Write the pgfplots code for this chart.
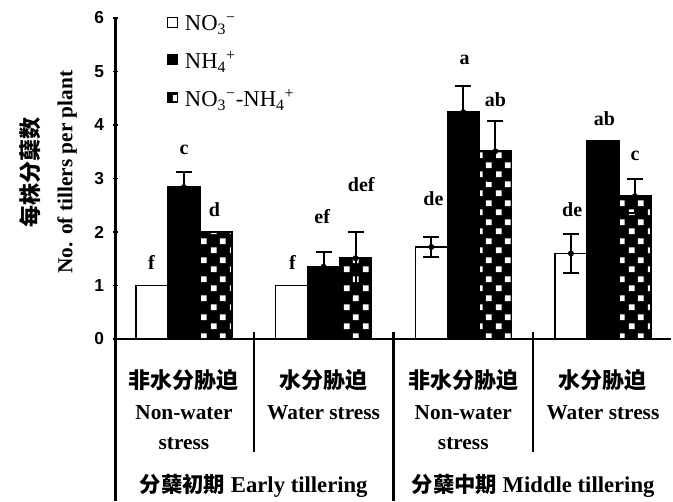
\documentclass[border=0pt]{standalone}
\usepackage{pgfplots}
\pgfplotsset{compat=1.18}
\usepackage{pgfplotstable}
\usepackage{fontspec}
\usetikzlibrary{patterns}
\setmainfont{Liberation Serif}
\newfontfamily\cjk{Noto Sans CJK SC}
\newfontfamily\ticksf{Liberation Sans}

\pgfdeclarepatternformonly{checks}{\pgfqpoint{0pt}{0pt}}{\pgfqpoint{14.25pt}{14.25pt}}{\pgfqpoint{14.25pt}{14.25pt}}{%
  \pgfpathrectangle{\pgfqpoint{1.4pt}{1.4pt}}{\pgfqpoint{4.6pt}{4.6pt}}%
  \pgfpathrectangle{\pgfqpoint{8.5pt}{8.5pt}}{\pgfqpoint{4.6pt}{4.6pt}}%
  \pgfusepath{fill}}

% bar heights
\pgfplotstableread{
x y
0 1.00
1 1.00
2 1.72
3 1.60
}\nothree
\pgfplotstableread{
x y
0 2.84
1 1.35
2 4.24
3 3.70
}\nhfour
\pgfplotstableread{
x y
0 2.00
1 1.51
2 3.51
3 2.67
}\mixed
% error bars (x = bar centre)
\pgfplotstableread{
x y err
1.771 1.72 0.19
2.771 1.60 0.37
0.000 2.84 0.28
1.000 1.35 0.28
2.000 4.24 0.49
1.229 1.51 0.49
2.229 3.51 0.56
3.229 2.67 0.32
}\errs
\pgfplotstableread{
x y label
-0.233 1.43 f
0.00 3.53 c
0.218 2.42 d
0.777 1.43 f
0.99 2.29 ef
1.27 2.88 def
1.786 2.62 de
2.01 5.21 a
2.23 4.47 ab
2.78 2.42 de
3.01 4.12 ab
3.23 3.42 c
}\letters

\newcommand{\zh}[1]{{\cjk\bfseries\fontsize{16.5}{22.9}\selectfont #1}}

\begin{document}
\begin{tikzpicture}
\begin{axis}[
  x=104.75pt, y=40.125pt,
  xmin=-0.49, xmax=3.49, ymin=0, ymax=6,
  axis x line*=bottom, axis y line*=left,
  axis line style={-, line width=1.6pt},
  clip=false,
  xtick={0,1,2,3},
  xticklabels={{\zh{非水分胁迫}\\Non-water\\stress},{\zh{水分胁迫}\\Water stress},{\zh{非水分胁迫}\\Non-water\\stress},{\zh{水分胁迫}\\Water stress}},
  x tick style={draw=none},
  ytick={0,1,2,3,4,5,6},
  y tick style={line width=1.2pt, black},
  major tick length=4pt,
  tick align=center,
  /pgf/number format/assume math mode=true,
  yticklabel style={font=\fontsize{13}{14}\selectfont\ticksf\bfseries, xshift=-3pt},
  xticklabel style={align=center, anchor=north, inner sep=0pt, yshift=-20.75pt, font=\fontsize{16}{22.9}\selectfont\bfseries},
  ylabel={{\cjk\bfseries\fontsize{16.5}{25.5}\selectfont 每株分蘖数}\\{\bfseries No. of tillers per plant}},
  ylabel style={at={(axis description cs:-0.121,0.52)}, anchor=center, align=center, font=\fontsize{16}{25.5}\selectfont},
  legend style={at={(axis description cs:0.092,1.012)}, anchor=north west, draw=none, fill=none,
    font=\fontsize{17}{19}\selectfont, row sep=12pt, inner sep=0pt,
    nodes={inner sep=1pt}, /tikz/every even column/.append style={column sep=0pt}},
  legend cell align=left,
  mybar/.style={ybar, bar width=24pt, line width=1.1pt,
    legend image code/.code={\draw[##1, line width=1pt] (0pt,-2.6pt) rectangle (7.5pt,4.9pt);}},
]
\addplot[mybar, bar shift=-24pt, draw=black, fill=white] table[x=x, y=y] {\nothree};
\addlegendentry{\hspace{4pt}NO\textsubscript{3}\textsuperscript{\char"2212}}
\addplot[mybar, bar shift=0pt, draw=black, fill=black] table[x=x, y=y] {\nhfour};
\addlegendentry{\hspace{4pt}NH\textsubscript{4}\textsuperscript{+}}
\addplot[mybar, bar shift=24pt, draw=black, fill=black, postaction={pattern=checks, pattern color=white}] table[x=x, y=y] {\mixed};
\addlegendentry{\hspace{4pt}NO\textsubscript{3}\textsuperscript{\char"2212}-NH\textsubscript{4}\textsuperscript{+}}
\addplot[forget plot, only marks, mark=none, black,
  error bars/y dir=both, error bars/y explicit,
  error bars/error bar style={line width=1.4pt, black},
  error bars/error mark options={rotate=90, mark size=6pt, line width=1.4pt, black}]
  table[x=x, y=y, y error=err] {\errs};
\addplot[only marks, mark=none, forget plot, nodes near coords, point meta=explicit symbolic,
  nodes near coords style={anchor=center, font=\fontsize{15}{17}\selectfont\bfseries, black}]
  table[x=x, y=y, meta=label] {\letters};
\draw[line width=1.6pt] (axis cs:0.5,0) ++(0pt,5.25pt) -- ++(0pt,-90pt);
\draw[line width=1.6pt] (axis cs:1.5,0) ++(0pt,5.25pt) -- ++(0pt,-126.75pt);
\draw[line width=1.6pt] (axis cs:2.5,0) ++(0pt,5.25pt) -- ++(0pt,-90pt);
\draw[line width=1.6pt] (rel axis cs:0,0) -- ++(0pt,-121.5pt);
\node[anchor=base, font=\fontsize{17}{20}\selectfont\bfseries] at ([yshift=-114.75pt]axis cs:0.5,0) {{\cjk\bfseries\fontsize{16}{20}\selectfont 分蘖初期} Early tillering};
\node[anchor=base, font=\fontsize{17}{20}\selectfont\bfseries] at ([yshift=-114.75pt]axis cs:2.5,0) {{\cjk\bfseries\fontsize{16}{20}\selectfont 分蘖中期} Middle tillering};
\coordinate (O) at (rel axis cs:0,0);
\end{axis}
\pgfresetboundingbox
\path[use as bounding box] (O) ++(-86.625pt,-121.5pt) rectangle ++(504.75pt,375.75pt);
\end{tikzpicture}
\end{document}
